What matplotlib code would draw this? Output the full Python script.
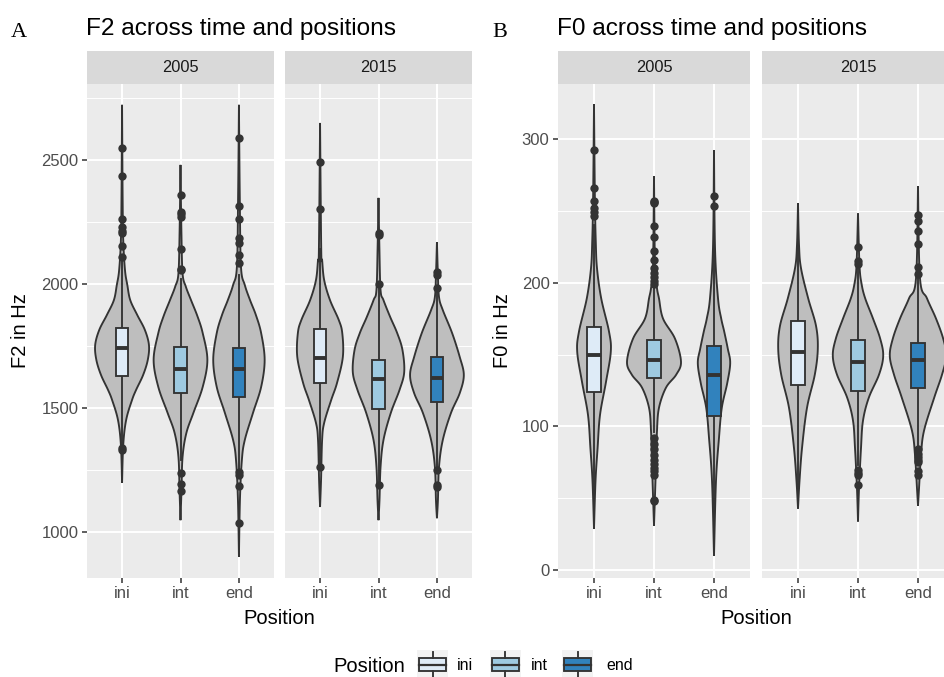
"""F2 / F0 violin + boxplot panels by recording year and word position."""

import matplotlib

matplotlib.use("Agg")
import matplotlib.pyplot as plt
import numpy as np
from matplotlib.patches import Polygon, Rectangle

plt.rcParams["font.family"] = ["Liberation Sans", "DejaVu Sans"]

positions = ["ini", "int", "end"]
years = ["2005", "2015"]

# violin outlines: y values (Hz) and half widths (category units), bottom to top
f2_2005_violin_y = [
    [1198, 1351, 1452, 1532, 1573, 1633, 1694, 1754, 1815, 1875, 1935, 1996, 2056, 2177, 2339, 2722],
    [1048, 1169, 1302, 1399, 1480, 1585, 1694, 1802, 1870, 1935, 1990, 2044, 2218, 2480],
    [900, 1129, 1290, 1371, 1480, 1585, 1694, 1802, 1875, 1935, 1996, 2069, 2339, 2722],
]
f2_2005_violin_w = [
    [0, 0.02, 0.07, 0.17, 0.24, 0.36, 0.44, 0.46, 0.39, 0.26, 0.14, 0.09, 0.05, 0.02, 0.01, 0],
    [0, 0.017, 0.035, 0.10, 0.22, 0.38, 0.46, 0.38, 0.29, 0.18, 0.09, 0.035, 0.015, 0],
    [0, 0.017, 0.05, 0.10, 0.24, 0.38, 0.44, 0.38, 0.29, 0.19, 0.10, 0.035, 0.015, 0],
]
f2_2015_violin_y = [
    [1101, 1210, 1371, 1440, 1532, 1601, 1706, 1802, 1855, 1935, 2016, 2097, 2137, 2649],
    [1048, 1129, 1262, 1371, 1480, 1573, 1645, 1734, 1802, 1867, 1935, 1976, 2150, 2347],
    [1056, 1129, 1262, 1371, 1480, 1560, 1633, 1706, 1802, 1895, 1948, 2050, 2169],
]
f2_2015_violin_w = [
    [0, 0.017, 0.035, 0.07, 0.19, 0.29, 0.39, 0.38, 0.32, 0.17, 0.07, 0.035, 0.02, 0],
    [0, 0.017, 0.035, 0.085, 0.21, 0.36, 0.44, 0.41, 0.32, 0.20, 0.085, 0.035, 0.015, 0],
    [0, 0.017, 0.035, 0.10, 0.24, 0.39, 0.46, 0.39, 0.26, 0.10, 0.035, 0.015, 0],
]
f0_2005_violin_y = [
    [29, 62, 85, 108, 131, 152, 166, 189, 210, 228, 258, 324],
    [31, 73, 97, 113, 127, 136, 145, 161, 175, 189, 196, 210, 274],
    [10, 62, 92, 113, 130, 144, 154, 166, 175, 189, 224, 292],
]
f0_2005_violin_w = [
    [0, 0.025, 0.06, 0.10, 0.20, 0.28, 0.25, 0.12, 0.05, 0.03, 0.015, 0],
    [0, 0.033, 0.05, 0.083, 0.20, 0.37, 0.45, 0.35, 0.15, 0.083, 0.05, 0.017, 0],
    [0, 0.033, 0.083, 0.13, 0.22, 0.27, 0.23, 0.17, 0.12, 0.067, 0.017, 0],
]
f0_2015_violin_y = [
    [43, 62, 85, 113, 136, 154, 170, 189, 210, 226, 255],
    [34, 57, 85, 104, 120, 136, 149, 161, 175, 189, 199, 212, 248],
    [45, 57, 80, 97, 120, 136, 149, 161, 175, 189, 203, 267],
]
f0_2015_violin_w = [
    [0, 0.025, 0.067, 0.15, 0.28, 0.33, 0.30, 0.17, 0.05, 0.017, 0],
    [0, 0.017, 0.05, 0.083, 0.18, 0.35, 0.42, 0.37, 0.25, 0.12, 0.06, 0.025, 0],
    [0, 0.017, 0.05, 0.10, 0.27, 0.40, 0.47, 0.42, 0.30, 0.15, 0.033, 0],
]

# boxplot stats: lower whisker, q1, median, q3, upper whisker
f2_2005_box = [[1345, 1629, 1742, 1823, 2100], [1290, 1560, 1657, 1746, 2020], [1250, 1544, 1657, 1742, 2035]]
f2_2015_box = [[1275, 1600, 1702, 1819, 2140], [1200, 1496, 1617, 1694, 1990], [1255, 1524, 1621, 1706, 1975]]
f0_2005_box = [[30, 124, 150, 169, 240], [96, 134, 146, 160, 198], [12, 107, 136, 156, 245]]
f0_2015_box = [[45, 129, 152, 173, 253], [73, 125, 145, 160, 211], [86, 127, 146, 158, 204]]

f2_2005_outliers = [
    [2548, 2435, 2262, 2230, 2214, 2205, 2153, 2109, 1339, 1331],
    [2359, 2290, 2282, 2270, 2141, 2060, 2055, 1238, 1194, 1165],
    [2589, 2315, 2262, 2185, 2165, 2117, 2085, 1242, 1230, 1185, 1036],
]
f2_2015_outliers = [
    [2492, 2302, 1262],
    [2205, 2198, 2000, 1190],
    [2048, 2036, 1984, 1250, 1190, 1182],
]
f0_2005_outliers = [
    [292, 266, 257, 252, 249, 246],
    [257, 256, 255, 239, 232, 222, 216, 210, 207, 204, 201, 199,
     92, 88, 84, 80, 77, 74, 71, 69, 66, 49, 48],
    [260, 253],
]
f0_2015_outliers = [
    [],
    [225, 215, 213, 70, 68, 66, 59],
    [247, 243, 236, 227, 211, 206, 84, 81, 79, 77, 75, 69, 66],
]

W, H = 944, 677
fill_colors = ["#DEEBF7", "#9ECAE1", "#3182BD"]
DARK = "#333333"
TEXT = "#4D4D4D"
LW = 1.35


def px_axes(fig, left, top, right, bottom, **kw):
    return fig.add_axes([left / W, 1 - bottom / H, (right - left) / W, (bottom - top) / H], **kw)


def smooth_outline(w, y, n=10):
    """Catmull-Rom pass through the read-off outline knots."""
    pts = np.column_stack([w, y]).astype(float)
    pts = np.vstack([pts[0], pts, pts[-1]])
    t = np.linspace(0, 1, n, endpoint=False)[:, None]
    segs = []
    for i in range(1, len(pts) - 2):
        p0, p1, p2, p3 = pts[i - 1], pts[i], pts[i + 1], pts[i + 2]
        segs.append(0.5 * (2 * p1 + (p2 - p0) * t + (2 * p0 - 5 * p1 + 4 * p2 - p3) * t ** 2
                           + (3 * p1 - p0 - 3 * p2 + p3) * t ** 3))
    segs.append(pts[-2][None, :])
    out = np.vstack(segs)
    out[:, 0] = np.clip(out[:, 0], 0, None)
    return out


def draw_facet(ax, vy, vw, box, outliers, ylim, majors, minors, show_y):
    ax.set_facecolor("#EBEBEB")
    ax.set_xlim(0.4, 3.6)
    ax.set_ylim(*ylim)
    for v in minors:
        ax.axhline(v, color="white", lw=0.7, zorder=0)
    for v in majors:
        ax.axhline(v, color="white", lw=1.4, zorder=0)
    for i in range(3):
        ax.axvline(i + 1, color="white", lw=1.4, zorder=0)

    for i in range(3):
        c = i + 1
        curve = smooth_outline(vw[i], vy[i])
        xs = np.concatenate([c + curve[:, 0], (c - curve[:, 0])[::-1]])
        ys = np.concatenate([curve[:, 1], curve[::-1, 1]])
        ax.add_patch(Polygon(np.column_stack([xs, ys]), closed=True, facecolor="#BEBEBE",
                             edgecolor=DARK, lw=LW, zorder=2))
        lo, q1, med, q3, hi = box[i]
        ax.plot([c, c], [lo, q1], color=DARK, lw=LW, zorder=3)
        ax.plot([c, c], [q3, hi], color=DARK, lw=LW, zorder=3)
        ax.add_patch(Rectangle((c - 0.11, q1), 0.22, q3 - q1, facecolor=fill_colors[i],
                               edgecolor=DARK, lw=LW, zorder=4))
        ax.plot([c - 0.11, c + 0.11], [med, med], color=DARK, lw=2.8, zorder=5,
                solid_capstyle="butt")
        if outliers[i]:
            ax.plot([c] * len(outliers[i]), outliers[i], "o", color=DARK, ms=6,
                    mec="none", zorder=6)

    for s in ax.spines.values():
        s.set_visible(False)
    ax.set_xticks([1, 2, 3])
    ax.set_xticklabels(positions, fontsize=12, color=TEXT)
    ax.tick_params(axis="x", length=3.6, width=1.1, color=DARK, pad=2.5)
    if show_y:
        ax.set_yticks(majors)
        ax.set_yticklabels([str(v) for v in majors], fontsize=12, color=TEXT)
        ax.tick_params(axis="y", length=3.6, width=1.1, color=DARK, pad=2.5)
    else:
        ax.set_yticks([])


def draw_strip(fig, left, right, label):
    sax = px_axes(fig, left, 51, right, 84)
    sax.set_facecolor("#D9D9D9")
    sax.set_xticks([])
    sax.set_yticks([])
    for s in sax.spines.values():
        s.set_visible(False)
    sax.text(0.5, 0.5, label, ha="center", va="center", fontsize=11.8, color="#1A1A1A",
             transform=sax.transAxes)


fig = plt.figure(figsize=(W / 100, H / 100), dpi=100)

panels = [
    dict(lefts=[87, 285], width=187, data=[(f2_2005_violin_y, f2_2005_violin_w, f2_2005_box, f2_2005_outliers),
                                           (f2_2015_violin_y, f2_2015_violin_w, f2_2015_box, f2_2015_outliers)],
         ylim=(815, 2806), majors=[1000, 1500, 2000, 2500], minors=[1250, 1750, 2250, 2750],
         tag="A", title="F2 across time and positions", ylabel="F2 in Hz", tag_x=19, ylab_x=21),
    dict(lefts=[558, 762], width=192, data=[(f0_2005_violin_y, f0_2005_violin_w, f0_2005_box, f0_2005_outliers),
                                            (f0_2015_violin_y, f0_2015_violin_w, f0_2015_box, f0_2015_outliers)],
         ylim=(-5.3, 338), majors=[0, 100, 200, 300], minors=[50, 150, 250],
         tag="B", title="F0 across time and positions", ylabel="F0 in Hz", tag_x=500, ylab_x=503),
]

for p in panels:
    for k, left in enumerate(p["lefts"]):
        ax = px_axes(fig, left, 84, left + p["width"], 578)
        vy, vw, box, outl = p["data"][k]
        draw_facet(ax, vy, vw, box, outl, p["ylim"], p["majors"], p["minors"], show_y=(k == 0))
        draw_strip(fig, left, left + p["width"], years[k])
    x0, x1 = p["lefts"][0], p["lefts"][1] + p["width"]
    fig.text(p["tag_x"] / W, 1 - 37 / H, p["tag"], ha="center", va="baseline", fontsize=16,
             family="Liberation Serif", color="black")
    fig.text((x0 - 1) / W, 1 - 34.5 / H, p["title"], ha="left", va="baseline", fontsize=17.6,
             color="black")
    fig.text((x0 + x1) / 2 / W, 1 - 618 / H, "Position", ha="center", va="center", fontsize=14.5)
    fig.text(p["ylab_x"] / W, 1 - 331 / H, p["ylabel"], ha="center", va="center", fontsize=14.5,
             rotation=90)

# legend
fig.text(405 / W, 1 - 666 / H, "Position", ha="right", va="center", fontsize=14.5)
key_lefts = [417, 490, 562]
label_lefts = [457, 531, 606]
for i, kl in enumerate(key_lefts):
    kax = px_axes(fig, kl, 650, kl + 31, 680)
    kax.set_xlim(0, 1)
    kax.set_ylim(0, 1)
    kax.set_facecolor("#F2F2F2")
    kax.set_xticks([])
    kax.set_yticks([])
    for s in kax.spines.values():
        s.set_visible(False)
    kax.add_patch(Rectangle((0.07, 0.3), 0.86, 0.42, facecolor=fill_colors[i], edgecolor=DARK, lw=LW))
    kax.plot([0.07, 0.93], [0.51, 0.51], color=DARK, lw=1.6)
    kax.plot([0.5, 0.5], [0.72, 0.95], color=DARK, lw=LW)
    kax.plot([0.5, 0.5], [0.08, 0.3], color=DARK, lw=LW)
    fig.text(label_lefts[i] / W, 1 - 666 / H, positions[i], ha="left", va="center", fontsize=11.5)

fig.savefig("out.png", dpi=100)
